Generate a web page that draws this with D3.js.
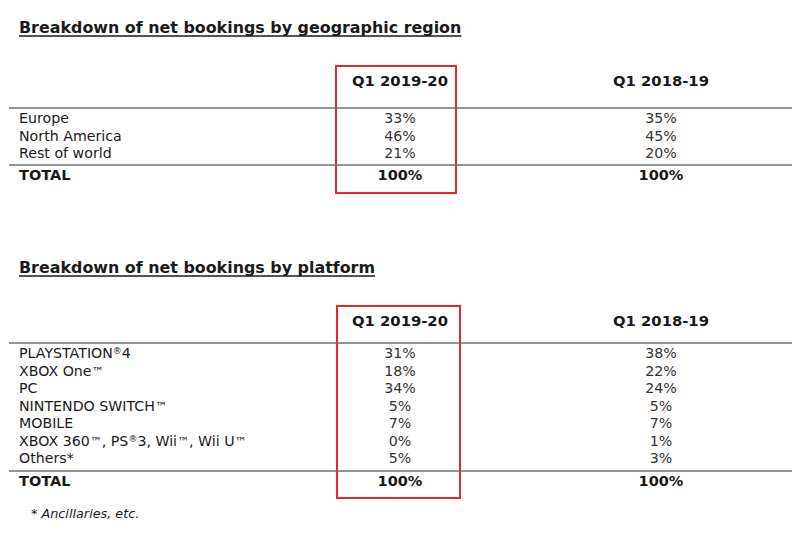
<!DOCTYPE html>
<html>
<head>
<meta charset="utf-8">
<script src="https://cdn.jsdelivr.net/npm/d3@7"></script>
<style>
  html, body { margin: 0; padding: 0; background: #fff; }
  svg { display: block; }
</style>
</head>
<body>
<svg id="chart" width="801" height="541"></svg>
<script>
// ---- Data ----
const columns = ["Q1 2019-20", "Q1 2018-19"];

const regionTitle = "Breakdown of net bookings by geographic region";
const regions = ["Europe", "North America", "Rest of world"];
const region2019 = ["33%", "46%", "21%"];
const region2018 = ["35%", "45%", "20%"];
const regionTotal = ["100%", "100%"];

const platformTitle = "Breakdown of net bookings by platform";
const platforms = ["PLAYSTATION®4", "XBOX One™", "PC", "NINTENDO SWITCH™", "MOBILE", "XBOX 360™, PS®3, Wii™, Wii U™", "Others*"];
const platform2019 = ["31%", "18%", "34%", "5%", "7%", "0%", "5%"];
const platform2018 = ["38%", "22%", "24%", "5%", "7%", "1%", "3%"];
const platformTotal = ["100%", "100%"];

const totalLabel = "TOTAL";
const footnote = "* Ancillaries, etc.";

// ---- Drawing ----
const svg = d3.select("#chart");
const font = "DejaVu Sans, Verdana, sans-serif";
const textColor = "#1a1a1a";
const valueColor = "#333";
const lineColor = "#707070";
const red = "#e8262d";

const x = d3.scaleOrdinal().domain(columns).range([400, 661]);

function addLabel(sel, label) {
  const parts = label.split(/([®™])/).filter(p => p.length);
  let shift = 0;
  parts.forEach(p => {
    if (p === "®") {
      sel.append("tspan").attr("font-size", 9).attr("dy", -4).text(p);
      shift = 4;
    } else if (p === "™") {
      sel.append("tspan").attr("font-size", 12).text(p);
    } else {
      const ts = sel.append("tspan").text(p);
      if (shift) { ts.attr("dy", shift); shift = 0; }
    }
  });
}

function drawTable(cfg) {
  const g = svg.append("g");
  const t = g.append("text")
    .attr("x", 19).attr("y", cfg.titleY)
    .attr("font-family", font).attr("font-size", 15.9).attr("font-weight", "bold")
    .attr("fill", textColor).text(cfg.title);
  const tw = t.node().getComputedTextLength();
  g.append("line").attr("x1", 19).attr("x2", 19 + tw)
    .attr("y1", cfg.titleY + 3).attr("y2", cfg.titleY + 3)
    .attr("stroke", textColor).attr("stroke-width", 1.4);

  g.selectAll("text.hdr").data(columns).join("text")
    .attr("class", "hdr")
    .attr("x", d => x(d)).attr("y", cfg.headerY)
    .attr("text-anchor", "middle")
    .attr("font-family", font).attr("font-size", 14.8).attr("font-weight", "bold")
    .attr("fill", textColor).text(d => d);

  const y = d3.scaleLinear()
    .domain([0, cfg.labels.length - 1])
    .range([cfg.firstRowY, cfg.firstRowY + cfg.step * (cfg.labels.length - 1)]);

  [cfg.line1Y, cfg.line2Y].forEach(ly => {
    g.append("line").attr("x1", 9).attr("x2", 792)
      .attr("y1", ly).attr("y2", ly)
      .attr("stroke", lineColor).attr("stroke-width", 1.5);
  });

  g.selectAll("text.lbl").data(cfg.labels).join("text")
    .attr("class", "lbl")
    .attr("x", 19).attr("y", (d, i) => y(i))
    .attr("font-family", font).attr("font-size", 14.2)
    .attr("fill", textColor)
    .each(function (d) { addLabel(d3.select(this), d); });

  [cfg.v2019, cfg.v2018].forEach((vals, ci) => {
    g.selectAll("text.val" + ci).data(vals).join("text")
      .attr("class", "val" + ci)
      .attr("x", x(columns[ci])).attr("y", (d, i) => y(i))
      .attr("text-anchor", "middle")
      .attr("font-family", font).attr("font-size", 14.2)
      .attr("fill", valueColor).text(d => d);
  });

  g.append("text").attr("x", 19).attr("y", cfg.totalY)
    .attr("font-family", font).attr("font-size", 14.5).attr("font-weight", "bold")
    .attr("fill", textColor).text(totalLabel);
  g.selectAll("text.tot").data(cfg.totals).join("text")
    .attr("class", "tot")
    .attr("x", (d, i) => x(columns[i])).attr("y", cfg.totalY)
    .attr("text-anchor", "middle")
    .attr("font-family", font).attr("font-size", 14.5).attr("font-weight", "bold")
    .attr("fill", textColor).text(d => d);

  g.append("rect")
    .attr("x", cfg.box[0]).attr("y", cfg.box[1])
    .attr("width", cfg.box[2] - cfg.box[0]).attr("height", cfg.box[3] - cfg.box[1])
    .attr("fill", "none").attr("stroke", red).attr("stroke-width", 2);
}

drawTable({
  title: regionTitle, titleY: 33, headerY: 86,
  line1Y: 108, line2Y: 165,
  labels: regions, v2019: region2019, v2018: region2018, totals: regionTotal,
  firstRowY: 123, step: 17.5, totalY: 180,
  box: [336, 66, 456, 193]
});

drawTable({
  title: platformTitle, titleY: 273, headerY: 326,
  line1Y: 343, line2Y: 471,
  labels: platforms, v2019: platform2019, v2018: platform2018, totals: platformTotal,
  firstRowY: 358, step: 17.5, totalY: 486,
  box: [337, 306, 460, 498]
});

svg.append("text").attr("x", 31).attr("y", 518)
  .attr("font-family", font).attr("font-size", 12.8).attr("font-style", "italic")
  .attr("fill", textColor).text(footnote);
</script>
</body>
</html>
